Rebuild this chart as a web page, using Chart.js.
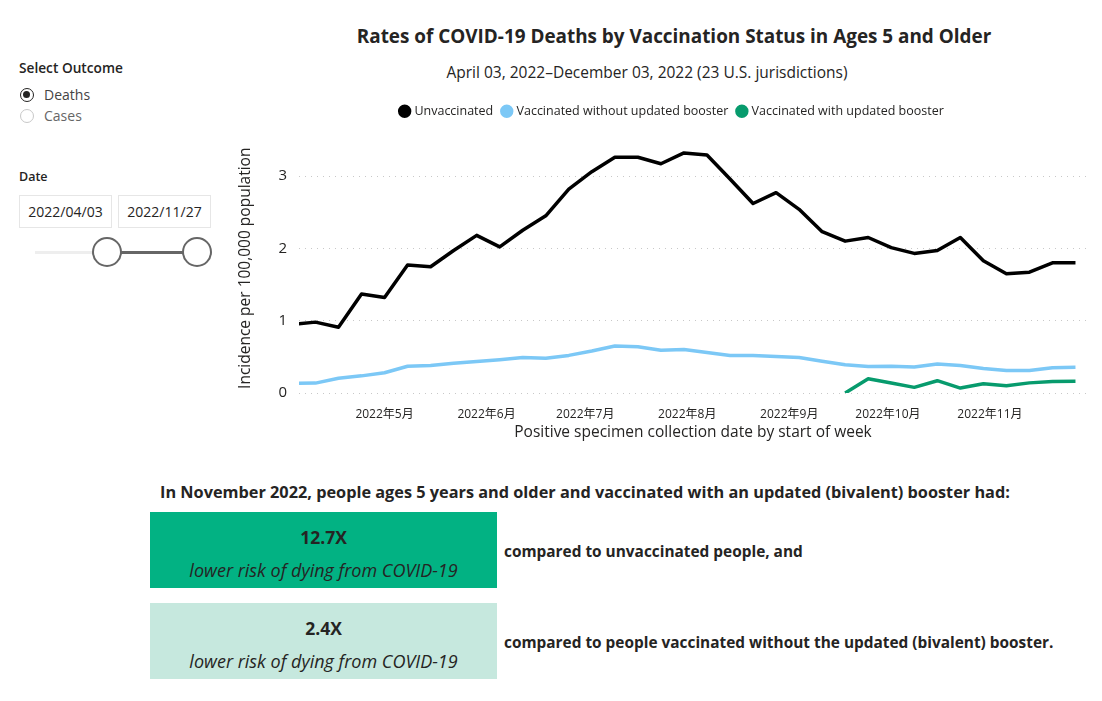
<!DOCTYPE html>
<html>
<head>
<meta charset="utf-8">
<script src="https://cdn.jsdelivr.net/npm/chart.js@4.4.0/dist/chart.umd.min.js"></script>
<style>
  body { margin: 0; width: 1102px; height: 701px; background: #fff; position: relative; overflow: hidden;
         font-family: "Open Sans", "Noto Sans", sans-serif; color: #252423; }
  .abs { position: absolute; white-space: nowrap; }
  .lbl { font-weight: 600; font-size: 13.7px; }
  .radio { width: 14px; height: 14px; border-radius: 50%; border: 1px solid #c8c8c8; box-sizing: border-box; }
  .radio.on { border: 1.5px solid #252423; }
  .radio.on::after { content: ""; position: absolute; left: 2px; top: 2px; width: 7px; height: 7px; border-radius: 50%; background: #252423; }
  .datebox { border: 1px solid #e6e6e6; height: 33px; width: 93px; box-sizing: border-box; font-size: 14px;
             line-height: 31px; text-align: center; }
  .knob { width: 30px; height: 30px; border-radius: 50%; border: 2px solid #666; background: #fff; box-sizing: border-box; }
  .box { position: absolute; left: 150px; width: 347px; height: 76px; text-align: center; }
  .box .big { font-weight: 700; font-size: 17.5px; margin-top: 13px; line-height: 24px; }
  .box .sub { font-style: italic; font-size: 18px; margin-top: 9px; line-height: 24px; }
  .cmp { font-weight: 700; font-size: 15.4px; }
  #wrap { position: absolute; left: 230px; top: 95px; width: 860px; height: 352px; }
</style>
</head>
<body>

<!-- slicers on the left -->
<div class="abs lbl" style="left:19px; top:58px;">Select Outcome</div>
<div class="abs radio on" style="left:20px; top:88px;"></div>
<div class="abs" style="left:44px; top:85px; font-size:14px; color:#444;">Deaths</div>
<div class="abs radio" style="left:20px; top:109px;"></div>
<div class="abs" style="left:44px; top:106px; font-size:14px; color:#666;">Cases</div>

<div class="abs lbl" style="left:19px; top:168px; font-size:12.5px;">Date</div>
<div class="abs datebox" style="left:19px; top:195px;">2022/04/03</div>
<div class="abs datebox" style="left:118px; top:195px;">2022/11/27</div>
<div class="abs" style="left:35px; top:251px; width:72px; height:3px; background:#eeeeee;"></div>
<div class="abs" style="left:107px; top:251px; width:90px; height:3px; background:#666;"></div>
<div class="abs knob" style="left:92px; top:237px;"></div>
<div class="abs knob" style="left:182px; top:237px;"></div>

<!-- chart heading -->
<div class="abs" style="left:324px; width:700px; top:23px; text-align:center; font-weight:700; font-size:18.9px; color:#252423;">Rates of COVID-19 Deaths by Vaccination Status in Ages 5 and Older</div>
<div class="abs" style="left:397px; width:500px; top:61px; text-align:center; font-size:15.5px; color:#252423;">April 03, 2022–December 03, 2022 (23 U.S. jurisdictions)</div>

<div id="wrap"><canvas id="rateChart"></canvas></div>

<!-- summary -->
<div class="abs" style="left:160px; top:481px; font-weight:700; font-size:16.3px;">In November 2022, people ages 5 years and older and vaccinated with an updated (bivalent) booster had:</div>
<div class="box" style="top:512px; background:#02b283;">
  <div class="big">12.7X</div>
  <div class="sub">lower risk of dying from COVID-19</div>
</div>
<div class="abs cmp" style="left:504px; top:541px;">compared to unvaccinated people, and</div>
<div class="box" style="top:603px; background:#c6e8de;">
  <div class="big">2.4X</div>
  <div class="sub">lower risk of dying from COVID-19</div>
</div>
<div class="abs cmp" style="left:504px; top:632px;">compared to people vaccinated without the updated (bivalent) booster.</div>

<script>
// weekly data, start of week
const weekStarts = [
    '2022-04-03', '2022-04-10', '2022-04-17', '2022-04-24',
    '2022-05-01', '2022-05-08', '2022-05-15', '2022-05-22', '2022-05-29',
    '2022-06-05', '2022-06-12', '2022-06-19', '2022-06-26',
    '2022-07-03', '2022-07-10', '2022-07-17', '2022-07-24', '2022-07-31',
    '2022-08-07', '2022-08-14', '2022-08-21', '2022-08-28',
    '2022-09-04', '2022-09-11', '2022-09-18', '2022-09-25',
    '2022-10-02', '2022-10-09', '2022-10-16', '2022-10-23', '2022-10-30',
    '2022-11-06', '2022-11-13', '2022-11-20', '2022-11-27'
];

const unvaccinated = [
    0.95, 0.98, 0.91, 1.37, 1.32, 1.77, 1.745, 1.97, 2.18, 2.02, 2.25, 2.45,
    2.82, 3.06, 3.26, 3.26, 3.17, 3.32, 3.29, 2.96, 2.62, 2.77, 2.54, 2.23,
    2.10, 2.15, 2.01, 1.93, 1.97, 2.15, 1.83, 1.65, 1.67, 1.80, 1.80
];

const vaxNoBooster = [
    0.135, 0.137, 0.205, 0.237, 0.28, 0.37, 0.38, 0.41, 0.437, 0.46, 0.49, 0.48,
    0.52, 0.58, 0.65, 0.64, 0.59, 0.60, 0.56, 0.52, 0.52, 0.505, 0.49, 0.44,
    0.39, 0.365, 0.37, 0.36, 0.40, 0.38, 0.34, 0.31, 0.31, 0.35, 0.355
];

const vaxWithBooster = [
    null, null, null, null, null, null, null, null, null, null, null, null,
    null, null, null, null, null, null, null, null, null, null, null, null,
    0.0, 0.196, 0.137, 0.078, 0.17, 0.068, 0.128, 0.10, 0.14, 0.16, 0.164
];

const monthTicks = ['2022-05-01', '2022-06-01', '2022-07-01', '2022-08-01', '2022-09-01', '2022-10-01', '2022-11-01'];
const monthLabels = ['2022年5月', '2022年6月', '2022年7月', '2022年8月', '2022年9月', '2022年10月', '2022年11月'];
const yTicks = [0, 1, 2, 3];

const seriesNames = ['Unvaccinated', 'Vaccinated without updated booster', 'Vaccinated with updated booster'];
const seriesColors = ['#000000', '#7cc8f6', '#079b6d'];

// days since the first week, used as x position
const DAY = 86400000;
const t0 = Date.parse(weekStarts[0]);
function dayIndex(s) {
    return Math.round((Date.parse(s) - t0) / DAY);
}

function points(values) {
    return weekStarts.map((d, i) => ({ x: dayIndex(d), y: values[i] }));
}

const tickDays = monthTicks.map(dayIndex);

// extra room under the legend, and nudge it a bit right like the original
const legendTweak = {
    id: 'legendTweak',
    beforeInit(chart) {
        const fit = chart.legend.fit;
        chart.legend.fit = function () {
            fit.bind(chart.legend)();
            this.height += 16;
        };
    },
    afterLayout(chart) {
        chart.legend.left += 14;
        chart.legend.right += 14;
    }
};

const fontFamily = '"Open Sans", "Noto Sans", "Noto Sans CJK SC", sans-serif';

function makeDataset(idx, values) {
    return {
        label: seriesNames[idx],
        data: points(values),
        borderColor: seriesColors[idx],
        backgroundColor: seriesColors[idx],
        borderWidth: 3.5,
        pointRadius: 0,
        tension: 0,
        spanGaps: false,
        borderJoinStyle: 'round'
    };
}

document.addEventListener('DOMContentLoaded', function () {
    const ctx = document.getElementById('rateChart').getContext('2d');
    new Chart(ctx, {
        type: 'line',
        data: {
            datasets: [
                makeDataset(0, unvaccinated),
                makeDataset(1, vaxNoBooster),
                makeDataset(2, vaxWithBooster)
            ]
        },
        options: {
            responsive: true,
            maintainAspectRatio: false,
            animation: false,
            layout: { padding: { left: 0, right: 3, top: 0, bottom: 0 } },
            plugins: {
                legend: {
                    display: true,
                    position: 'top',
                    labels: {
                        usePointStyle: true,
                        pointStyle: 'circle',
                        boxWidth: 7,
                        boxHeight: 7,
                        padding: 10,
                        color: '#252423',
                        font: { family: fontFamily, size: 12.5 }
                    }
                },
                tooltip: { enabled: false }
            },
            scales: {
                x: {
                    type: 'linear',
                    min: 2,
                    max: 241.5,
                    grid: { display: false },
                    border: { display: false },
                    afterBuildTicks(axis) {
                        axis.ticks = tickDays.map(v => ({ value: v }));
                    },
                    ticks: {
                        autoSkip: false,
                        maxRotation: 0,
                        padding: 6,
                        color: '#252423',
                        font: { family: fontFamily, size: 12 },
                        callback(value) {
                            const i = tickDays.indexOf(value);
                            return i >= 0 ? monthLabels[i] : '';
                        }
                    },
                    title: {
                        display: true,
                        text: 'Positive specimen collection date by start of week',
                        color: '#252423',
                        padding: { top: 4, bottom: 5 },
                        font: { family: fontFamily, size: 15.5 }
                    },
                    afterFit(axis) { axis.height = 54; }
                },
                y: {
                    min: 0,
                    max: 3.45,
                    grid: {
                        color: '#c8c8c8',
                        drawTicks: false
                    },
                    border: { display: false, dash: [1, 5] },
                    afterBuildTicks(axis) {
                        axis.ticks = yTicks.map(v => ({ value: v }));
                    },
                    ticks: {
                        padding: 12,
                        color: '#252423',
                        font: { family: fontFamily, size: 15 }
                    },
                    title: {
                        display: true,
                        text: 'Incidence per 100,000 population',
                        color: '#252423',
                        padding: { top: 6, bottom: 0 },
                        font: { family: fontFamily, size: 15.5 }
                    },
                    afterFit(axis) { axis.width = 69; }
                }
            }
        },
        plugins: [legendTweak]
    });
});
</script>
</body>
</html>
